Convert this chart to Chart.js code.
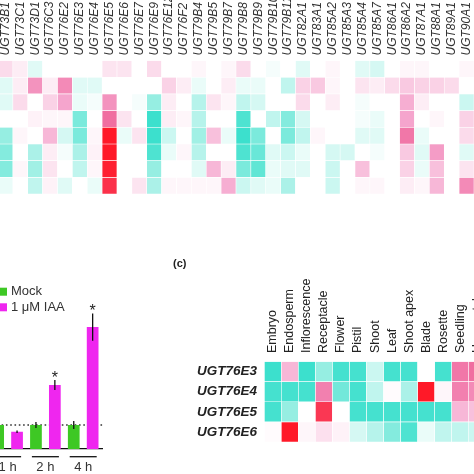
<!DOCTYPE html>
<html>
<head>
<meta charset="utf-8">
<script src="https://cdn.jsdelivr.net/npm/chart.js@4.4.0/dist/chart.umd.min.js"></script>
<style>
  html, body { margin: 0; padding: 0; background: #fff; width: 474px; height: 474px; overflow: hidden; }
  body { position: relative; }
  canvas { position: absolute; }
  #topMap { left: -2px; top: -30px; }
  #bars { left: -20px; top: 250px; }
  #tissueMap { left: 160px; top: 250px; }
</style>
</head>
<body>
<canvas id="topMap" width="476" height="230"></canvas>
<canvas id="bars" width="130" height="224"></canvas>
<canvas id="tissueMap" width="340" height="210"></canvas>
<script>
// Datos del heatmap de arriba (32 genes, 8 filas)
const topGenes = ['UGT73B1', 'UGT73C1', 'UGT73D1', 'UGT76C3', 'UGT76E2', 'UGT76E3', 'UGT76E4', 'UGT76E5',
  'UGT76E6', 'UGT76E7', 'UGT76E9', 'UGT76E12', 'UGT76F2', 'UGT79B4', 'UGT79B5', 'UGT79B7',
  'UGT79B8', 'UGT79B9', 'UGT79B10', 'UGT79B11', 'UGT82A1', 'UGT83A1', 'UGT85A2', 'UGT85A3',
  'UGT85A4', 'UGT85A7', 'UGT86A1', 'UGT86A2', 'UGT87A1', 'UGT88A1', 'UGT89A1', 'UGT90A1'];

const topRow1 = [0.4, 0.2, -0.3, 0, 0, 0, 0, 0.3, 0.3, 0, 0.4, 0, 0, 0.1, 0, 0.1,
  0.4, 0, -0.1, 0, -0.3, 0, 0.1, 0, -0.3, -0.4, 0, 0.1, 0.1, 0, 0, 0.1];
const topRow2 = [-0.3, 0.2, 1.2, 0.2, 1.3, -0.3, -0.3, 0, 0, 0, 0, 0.5, 0.2, -0.2, 0, 0.2,
  -0.2, -0.2, 0, -0.6, 0.5, 0.6, 0.1, 0, 0.3, 0.2, 0.4, 0.6, 0.5, 0.5, 0.4, 0];
const topRow3 = [-0.3, 0.4, 0, 0.5, 1.0, -0.2, -0.1, 1.2, 0, -0.1, -1.0, 0.2, 0, -0.7, 0.3, 0.1,
  -0.6, -0.4, 0, 0, 0.4, 0, 0.2, 0, -0.1, 0, 0, 0.9, 0.2, 0, 0, -0.5];
const topRow4 = [0, 0, 0.15, 0.1, 0.1, -1.3, 0, 1.6, 0.3, 0, -2.0, 0.2, 0.1, -0.7, 0, 0,
  -1.8, 0, -0.6, -1.2, -0.4, 0, 0, 0, -0.1, -0.2, 0, 1.0, 0, 0.1, 0, 0.5];
const topRow5 = [-1.0, 0.1, 0, 0.8, -0.4, -1.3, 0.1, 3.0, -0.2, 0.3, -2.0, -0.5, 0, -0.9, 0.7, -0.2,
  -2.0, -1.3, 0, -1.3, -0.6, 0.1, 0, 0, -0.3, -0.3, 0, 1.5, -0.2, 0, 0, 0.4];
const topRow6 = [-1.2, 0, -0.8, 0.2, -0.1, -0.8, 0.15, 3.0, 0, 0, -1.8, -0.2, 0.1, -0.7, 0, 0,
  -1.8, -1.5, -0.3, -0.5, -0.2, 0, -0.4, -0.4, 0, -0.1, 0, 0.6, -0.3, 1.1, 0, -0.3];
const topRow7 = [-1.2, 0.1, -0.9, 0.3, 0, -0.6, 0.1, 2.9, 0, 0, -1.0, 0, 0, -0.3, 0.8, 0.2,
  -1.3, -1.6, -0.2, -0.3, -0.3, 0, -0.5, 0, 0.7, 0, 0, 0.5, -0.2, 0.7, 0, 0.3];
const topRow8 = [-0.2, 0, -0.6, 0.15, -0.3, 0, -0.2, 2.6, 0, 0.3, -0.8, 0.1, 0.1, 0.1, 0.1, 0.9,
  -0.5, -0.3, -0.2, -0.8, 0, 0, -0.5, 0, 0.1, 0.1, 0, 0.2, 0.1, 0.8, 0, 1.3];

// Datos del grafico de barras
const timeLabels = ['1 h', '2 h', '4 h'];
const mockValues = [1.0, 1.0, 1.0];
const mockErrors = [0.1, 0.13, 0.17];
const iaaValues = [0.72, 2.67, 5.08];
const iaaErrors = [0.05, 0.21, 0.57];
const iaaSignificant = [false, true, true];

// Datos del heatmap (c)
const tissues = ['Embryo', 'Endosperm', 'Inflorescence', 'Receptacle', 'Flower', 'Pistil', 'Shoot',
  'Leaf', 'Shoot apex', 'Blade', 'Rosette', 'Seedling', 'Hypocotyl'];
const tissueGenes = ['UGT76E3', 'UGT76E4', 'UGT76E5', 'UGT76E6'];
const rowE3 = [-2.0, 0.8, -2.0, -1.0, -1.9, -1.9, -0.5, -1.9, -1.9, 0, -1.9, 1.5, 1.6];
const rowE4 = [-1.9, -1.9, -1.9, 1.4, -1.4, -1.9, -0.6, 0.05, -0.8, 3.0, 0.1, 1.4, 1.3];
const rowE5 = [-1.9, -1.0, 0, 2.5, 0, -1.9, -1.9, -1.9, -1.9, -1.9, -1.9, 0.8, 0.7];
const rowE6 = [0.05, 3.0, 0.1, 0.35, 0.15, -0.4, -0.7, -1.2, -1.8, -0.2, -0.6, -0.6, -0.5];

Chart.defaults.font.family = "'Liberation Sans', Arial, sans-serif";

// Escala de color: turquesa - blanco - rosa - rojo
const colorStops = [
  [-2, [60, 224, 205]],
  [-1, [150, 238, 226]],
  [0, [255, 255, 255]],
  [1, [245, 165, 205]],
  [1.6, [240, 110, 160]],
  [3, [255, 25, 40]]
];

function heatColor(v) {
  if (v <= colorStops[0][0]) return 'rgb(' + colorStops[0][1].join(',') + ')';
  for (let i = 1; i < colorStops.length; i++) {
    const [v1, c1] = colorStops[i];
    if (v <= v1) {
      const [v0, c0] = colorStops[i - 1];
      const t = (v - v0) / (v1 - v0);
      return 'rgb(' + c0.map((c, k) => Math.round(c + (c1[k] - c) * t)).join(',') + ')';
    }
  }
  return 'rgb(' + colorStops[colorStops.length - 1][1].join(',') + ')';
}

// Cada fila es un dataset apilado; cada celda vale 1 y el color sale del valor
function heatDatasets(rows, yId) {
  return rows.map((row, r) => ({
    label: 'fila ' + (r + 1),
    data: row.map(() => 1),
    backgroundColor: row.map(heatColor),
    borderColor: '#ffffff',
    borderWidth: 0.6,
    borderSkipped: false,
    barPercentage: 1,
    categoryPercentage: 1,
    yAxisID: yId
  }));
}

const noExtras = { legend: { display: false }, tooltip: { enabled: false } };

// alto fijo del eje x sin el relleno que mete la etiqueta girada
function fixedTop(h) {
  return s => { s.height = h; s.paddingLeft = 0; s.paddingRight = 0; };
}

// Heatmap de arriba
const topRows = [topRow1, topRow2, topRow3, topRow4, topRow5, topRow6, topRow7, topRow8];
new Chart(document.getElementById('topMap'), {
  type: 'bar',
  data: { labels: topGenes, datasets: heatDatasets(topRows, 'y') },
  options: {
    responsive: false,
    animation: false,
    layout: { padding: { left: 0, right: 0, top: 0, bottom: 6 } },
    plugins: noExtras,
    scales: {
      x: {
        position: 'top',
        stacked: true,
        grid: { display: false, drawTicks: false },
        border: { display: false },
        ticks: {
          autoSkip: false, minRotation: 90, maxRotation: 90, padding: 5, color: '#333',
          labelOffset: 14.4, // chart.js corre las etiquetas giradas arriba una linea a la izquierda
          font: { size: 12, style: 'italic' }
        },
        afterFit: fixedTop(90.5)
      },
      y: { display: false, stacked: true, reverse: true, min: 0, max: 8 }
    }
  }
});

// Plugin para barras de error, linea punteada, leyenda y subrayados
const barExtras = {
  id: 'barExtras',
  beforeDatasetsDraw(chart) {
    const { ctx, chartArea, scales: { y } } = chart;
    const yy = y.getPixelForValue(1);
    ctx.save();
    ctx.setLineDash([1.6, 2.7]);
    ctx.strokeStyle = '#333';
    ctx.lineWidth = 1.6;
    ctx.beginPath();
    ctx.moveTo(chartArea.left, yy);
    ctx.lineTo(chartArea.right, yy);
    ctx.stroke();
    ctx.restore();
  },
  afterDatasetsDraw(chart) {
    const { ctx, scales: { y } } = chart;
    ctx.save();
    ctx.strokeStyle = '#111';
    ctx.lineWidth = 1.3;
    chart.data.datasets.forEach((ds, i) => {
      chart.getDatasetMeta(i).data.forEach((bar, j) => {
        const v = ds.data[j], e = ds.errors[j];
        const top = y.getPixelForValue(v + e);
        ctx.beginPath();
        ctx.moveTo(bar.x, y.getPixelForValue(v - e));
        ctx.lineTo(bar.x, top);
        ctx.stroke();
        if (i === 1 && iaaSignificant[j]) {
          ctx.fillStyle = '#222';
          ctx.font = "16px 'Liberation Sans', Arial";
          ctx.textAlign = 'center';
          ctx.textBaseline = 'alphabetic';
          ctx.fillText('*', bar.x, top + 3);
        }
      });
    });
    ctx.restore();
  },
  afterDraw(chart) {
    const { ctx, scales: { x } } = chart;
    ctx.save();
    // subrayado de cada grupo
    ctx.strokeStyle = '#111';
    ctx.lineWidth = 1.3;
    timeLabels.forEach((t, j) => {
      const cx = x.getPixelForValue(j);
      ctx.beginPath();
      ctx.moveTo(cx - 13.5, 206.7);
      ctx.lineTo(cx + 13.5, 206.7);
      ctx.stroke();
    });
    // leyenda
    ctx.font = "13px 'Liberation Sans', Arial";
    ctx.textAlign = 'left';
    ctx.textBaseline = 'middle';
    chart.data.datasets.forEach((ds, i) => {
      const yy = 41.7 + i * 15.6;
      ctx.fillStyle = ds.backgroundColor;
      ctx.fillRect(18, yy - 4, 9, 8);
      ctx.fillStyle = '#333';
      ctx.fillText(ds.label, 31, yy);
    });
    ctx.restore();
  }
};

new Chart(document.getElementById('bars'), {
  type: 'bar',
  data: {
    labels: timeLabels,
    datasets: [
      { label: 'Mock', data: mockValues, errors: mockErrors, backgroundColor: '#3ec824', barPercentage: 0.62, categoryPercentage: 1 },
      { label: '1 μM IAA', data: iaaValues, errors: iaaErrors, backgroundColor: '#ef26ef', barPercentage: 0.62, categoryPercentage: 1 }
    ]
  },
  options: {
    responsive: false,
    animation: false,
    layout: { padding: { left: 8.7, right: 7.9, top: 55, bottom: 0 } },
    plugins: noExtras,
    scales: {
      x: {
        grid: { display: false, drawTicks: false },
        border: { display: true, color: '#111', width: 1.3 },
        ticks: { padding: 11, color: '#333', font: { size: 13 } },
        afterFit: s => { s.height = 25; s.paddingLeft = 0; s.paddingRight = 0; }
      },
      y: { display: false, min: 0, max: 6 }
    }
  },
  plugins: [barExtras]
});

// Letra del panel (c)
const panelLetter = {
  id: 'panelLetter',
  afterDraw(chart) {
    const ctx = chart.ctx;
    ctx.save();
    ctx.fillStyle = '#222';
    ctx.font = "bold 11px 'Liberation Sans', Arial";
    ctx.textAlign = 'left';
    ctx.textBaseline = 'middle';
    ctx.fillText('(c)', 13, 14);
    ctx.restore();
  }
};

const tissueRows = [rowE3, rowE4, rowE5, rowE6];
new Chart(document.getElementById('tissueMap'), {
  type: 'bar',
  data: { labels: tissues, datasets: heatDatasets(tissueRows, 'yv') },
  options: {
    responsive: false,
    animation: false,
    layout: { padding: { left: 0, right: 14.2, top: 0, bottom: 18 } },
    plugins: noExtras,
    scales: {
      x: {
        position: 'top',
        stacked: true,
        grid: { display: false, drawTicks: false },
        border: { display: false },
        ticks: {
          autoSkip: false, minRotation: 90, maxRotation: 90, padding: 8.5, color: '#222',
          labelOffset: 15,
          font: { size: 12.5 }
        },
        afterFit: fixedTop(111.5)
      },
      yv: { display: false, stacked: true, reverse: true, min: 0, max: 4 },
      y: {
        type: 'category',
        labels: tissueGenes,
        position: 'left',
        offset: true,
        grid: { display: false, drawTicks: false },
        border: { display: false },
        ticks: { padding: 7.3, color: '#222', font: { size: 13.5, weight: 'bold', style: 'italic' } },
        afterFit: s => { s.width = 104.3; s.paddingTop = 0; s.paddingBottom = 0; }
      }
    }
  },
  plugins: [panelLetter]
});
</script>
</body>
</html>
